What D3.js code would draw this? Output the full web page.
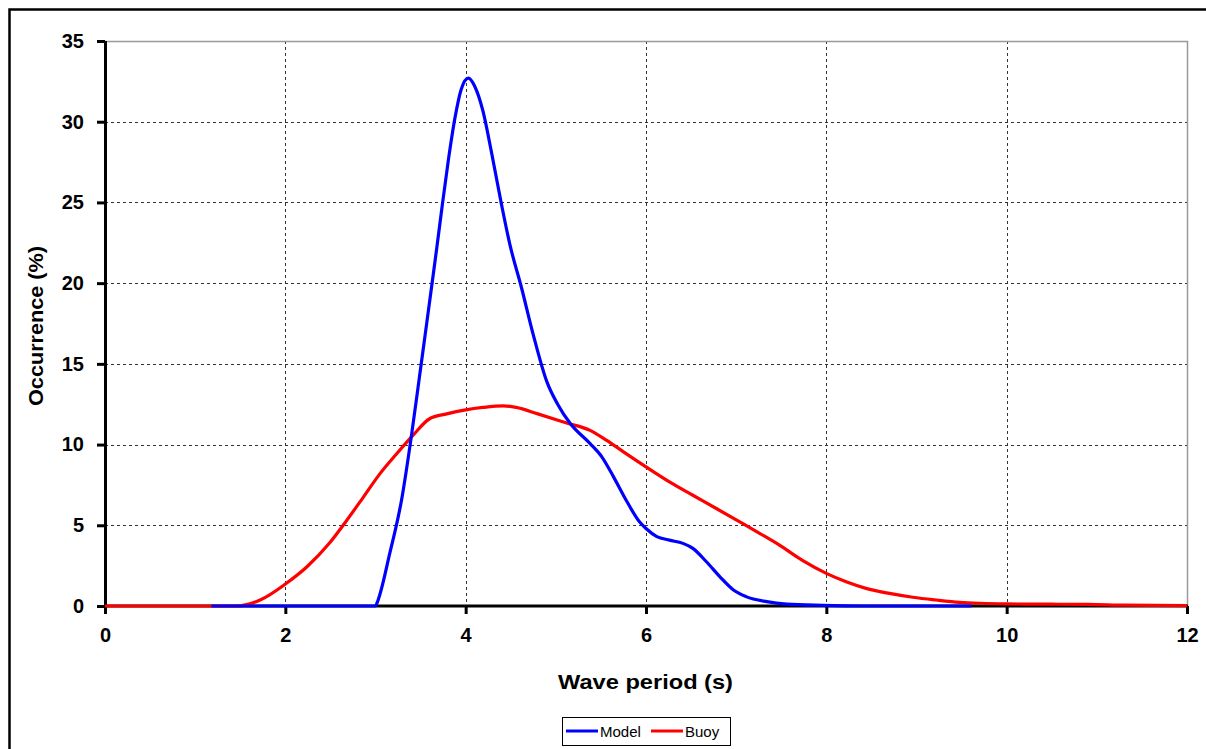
<!DOCTYPE html>
<html>
<head>
<meta charset="utf-8">
<script src="https://cdn.jsdelivr.net/npm/d3@7"></script>
<style>
  html, body { margin: 0; padding: 0; background: #fff; }
  svg { display: block; font-family: "Liberation Sans", Arial, sans-serif; }
</style>
</head>
<body>
<svg id="chart" width="1206" height="749"></svg>
<script>
// Wave period distribution: model vs buoy
const modelPeriod = [1.18, 3.0, 3.01, 3.16, 3.29, 3.40, 3.49, 3.57, 3.63, 3.68, 3.74, 3.81, 3.88, 3.95, 4.03, 4.10, 4.19, 4.29, 4.40, 4.49, 4.62, 4.75, 4.90, 5.02, 5.16, 5.38, 5.51, 5.64, 5.78, 5.93, 6.0, 6.12, 6.26, 6.41, 6.52, 6.67, 6.82, 6.97, 7.11, 7.34, 7.56, 7.96, 8.4, 9.61];
const modelOccurrence = [0, 0, 0.1, 3.3, 6.6, 10.6, 14.3, 17.6, 20.1, 22.2, 24.8, 27.7, 30.2, 32.0, 32.7, 32.2, 30.7, 28.0, 24.8, 22.4, 19.7, 16.8, 13.9, 12.5, 11.3, 10.06, 9.24, 8.0, 6.55, 5.2, 4.8, 4.3, 4.08, 3.88, 3.57, 2.74, 1.81, 0.99, 0.58, 0.27, 0.12, 0.04, 0, 0];

const buoyPeriod = [0, 1.44, 1.72, 2.0, 2.24, 2.49, 2.68, 2.86, 3.05, 3.23, 3.42, 3.60, 3.79, 4.0, 4.19, 4.42, 4.56, 4.80, 5.12, 5.38, 5.56, 5.75, 6.0, 6.26, 6.52, 6.78, 7.04, 7.26, 7.48, 7.73, 8.0, 8.22, 8.44, 8.70, 8.96, 9.22, 9.48, 9.70, 10.0, 10.5, 10.9, 11.3, 12.0];
const buoyOccurrence = [0, 0, 0.37, 1.36, 2.43, 3.9, 5.3, 6.7, 8.2, 9.4, 10.6, 11.6, 11.9, 12.15, 12.3, 12.4, 12.3, 11.9, 11.34, 10.88, 10.27, 9.55, 8.62, 7.69, 6.86, 6.04, 5.21, 4.5, 3.77, 2.84, 2.02, 1.5, 1.09, 0.78, 0.54, 0.37, 0.23, 0.17, 0.13, 0.11, 0.1, 0.05, 0.02];

const xTicks = [0, 2, 4, 6, 8, 10, 12];
const yTicks = [0, 5, 10, 15, 20, 25, 30, 35];

const seriesNames = ["Model", "Buoy"];
const seriesColors = ["#0000FF", "#FF0000"];

const svg = d3.select("#chart");
const W = 1206, H = 749;
const plot = { left: 105, right: 1187, top: 41, bottom: 606 };

svg.append("rect").attr("width", W).attr("height", H).attr("fill", "#fff");

// outer chart frame (runs off the right and bottom edges)
svg.append("rect")
  .attr("x", 9.5).attr("y", 9.5)
  .attr("width", 1300).attr("height", 900)
  .attr("fill", "none").attr("stroke", "#000").attr("stroke-width", 2.5);

const x = d3.scaleLinear().domain([0, 12]).range([plot.left, plot.right]);
const y = d3.scaleLinear().domain([0, 35]).range([plot.bottom, plot.top]);

// gridlines
const grid = svg.append("g");
grid.selectAll(".vg").data(xTicks.filter(d => d > 0 && d < 12)).join("line")
  .attr("x1", d => Math.round(x(d)) + 0.5).attr("x2", d => Math.round(x(d)) + 0.5)
  .attr("y1", plot.top).attr("y2", plot.bottom)
  .attr("stroke", "#333").attr("stroke-width", 1).attr("stroke-dasharray", "3,3");
grid.selectAll(".hg").data(yTicks.filter(d => d > 0 && d < 35)).join("line")
  .attr("y1", d => Math.round(y(d)) + 0.5).attr("y2", d => Math.round(y(d)) + 0.5)
  .attr("x1", plot.left).attr("x2", plot.right)
  .attr("stroke", "#333").attr("stroke-width", 1).attr("stroke-dasharray", "3,3");

// plot-area border (top and right)
svg.append("path")
  .attr("d", `M${plot.left},${Math.round(y(35)) + 0.5}H${Math.round(x(12)) + 0.5}V${plot.bottom}`)
  .attr("fill", "none").attr("stroke", "#999").attr("stroke-width", 1.5);

// series lines
const line = d3.line()
  .x(d => x(d[0])).y(d => y(d[1]))
  .curve(d3.curveMonotoneX);

const buoyData = buoyPeriod.map((p, i) => [p, buoyOccurrence[i]]);
const modelData = modelPeriod.map((p, i) => [p, modelOccurrence[i]]);

// axes
const xAxis = d3.axisBottom(x).tickValues(xTicks).tickSize(8).tickPadding(14).tickFormat(d3.format("d"));
const yAxis = d3.axisLeft(y).tickValues(yTicks).tickSize(8).tickPadding(13).tickFormat(d3.format("d"));

const gx = svg.append("g").attr("transform", `translate(0,${plot.bottom})`).call(xAxis);
const gy = svg.append("g").attr("transform", `translate(${plot.left},0)`).call(yAxis);

[gx, gy].forEach(g => {
  g.select(".domain").attr("stroke", "#000").attr("stroke-width", 3);
  g.selectAll(".tick line").attr("stroke", "#000").attr("stroke-width", 3);
  g.selectAll(".tick text")
    .attr("fill", "#000").attr("font-size", 20).attr("font-weight", "bold")
    .attr("font-family", "Liberation Sans, Arial, sans-serif");
});
gy.select(".domain").attr("d", `M0.5,${plot.top}V${plot.bottom}`);
gx.select(".domain").attr("d", `M${plot.left},0V0H${plot.right + 1}`);

svg.append("path").datum(buoyData)
  .attr("d", line).attr("fill", "none")
  .attr("stroke", seriesColors[1]).attr("stroke-width", 3.2).attr("stroke-linejoin", "round");
svg.append("path").datum(modelData)
  .attr("d", line).attr("fill", "none")
  .attr("stroke", seriesColors[0]).attr("stroke-width", 3.2).attr("stroke-linejoin", "round");

// axis titles
svg.append("text")
  .attr("x", 645.5).attr("y", 689)
  .attr("text-anchor", "middle")
  .attr("font-size", 21).attr("font-weight", "bold")
  .attr("textLength", 175).attr("lengthAdjust", "spacingAndGlyphs")
  .text("Wave period (s)");

svg.append("text")
  .attr("transform", "translate(43,326) rotate(-90)")
  .attr("text-anchor", "middle")
  .attr("font-size", 21).attr("font-weight", "bold")
  .attr("textLength", 160).attr("lengthAdjust", "spacingAndGlyphs")
  .text("Occurrence (%)");

// legend
const legend = svg.append("g");
legend.append("rect")
  .attr("x", 562.5).attr("y", 717.5).attr("width", 168).attr("height", 28)
  .attr("fill", "#fff").attr("stroke", "#000").attr("stroke-width", 1);
const legendX = [566, 651];
seriesNames.forEach((name, i) => {
  legend.append("line")
    .attr("x1", legendX[i]).attr("x2", legendX[i] + 32)
    .attr("y1", 731).attr("y2", 731)
    .attr("stroke", seriesColors[i]).attr("stroke-width", 3);
  legend.append("text")
    .attr("x", legendX[i] + 34).attr("y", 737)
    .attr("font-size", 15)
    .text(name);
});
</script>
</body>
</html>
